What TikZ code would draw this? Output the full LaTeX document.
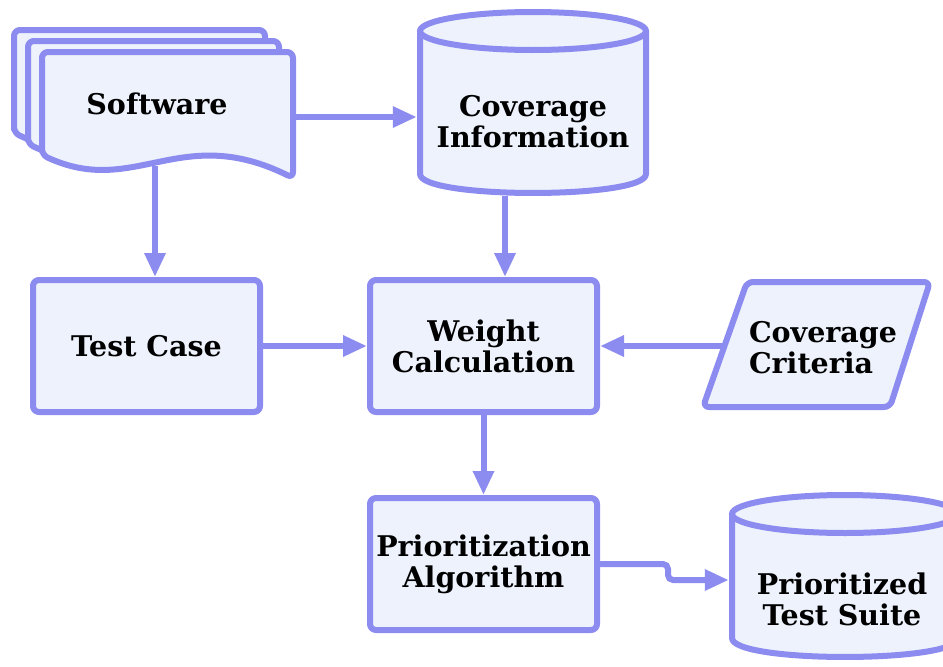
\documentclass[tikz,border=0pt]{standalone}
\usepackage{fontspec}
\setmainfont{DejaVu Serif}
\usetikzlibrary{arrows.meta}
\definecolor{edgec}{RGB}{140,140,240}
\definecolor{fillc}{RGB}{237,242,252}
\begin{document}
\begin{tikzpicture}[x=1pt,y=-1pt,
  shp/.style={draw=edgec, fill=fillc, line width=6pt, rounded corners=6pt, line join=round},
  box/.style={shp, minimum width=227pt, minimum height=132pt, inner sep=0pt},
  ghost/.style={inner sep=0pt},
  lbl/.style={font=\fontsize{28.5}{31}\selectfont\bfseries, align=center, text=black},
  conn/.style={draw=edgec, line width=6pt, -{Triangle[length=24pt,width=20pt]}}]
\useasboundingbox (0,0) rectangle (943,667);

% Software (stack of documents)
\foreach \dx/\dy in {-28/-22,-14/-11,0/0}{
  \draw[shp] ([shift={(\dx,\dy)}]42,155) -- ([shift={(\dx,\dy)}]42,52) -- ([shift={(\dx,\dy)}]293,52) -- ([shift={(\dx,\dy)}]293,178)
    .. controls ([shift={(\dx,\dy)}]180,122) and ([shift={(\dx,\dy)}]135,198) .. ([shift={(\dx,\dy)}]42,155) -- cycle;
}
\node[ghost, minimum width=251pt, minimum height=126pt] (sw) at (167.5,115) {};
\node[lbl] (swt) at (157,104) {Software};
\coordinate (swS) at (155,166);
\coordinate (swE) at (293,117);

% Coverage Information (cylinder)
\draw[draw=edgec, fill=fillc, line width=6pt, line join=round] (420,31) -- (420,174) .. controls (420,199.3) and (646,199.3) .. (646,174) -- (646,31);
\draw[draw=edgec, fill=fillc, line width=6pt] (533,31) ellipse[x radius=113, y radius=19];
\node[ghost, minimum width=232pt, minimum height=187pt] (cov) at (533,102.5) {};
\node[lbl] (covt) at (533,122) {Coverage\\Information};

% Boxes
\node[box, lbl] (tc) at (146.5,346) {Test Case};
\node[box, lbl] (wc) at (483.5,346) {Weight\\Calculation};
\node[box, lbl] (pa) at (483.5,564) {Prioritization\\Algorithm};

% Coverage Criteria (parallelogram)
\draw[shp] (747,282) -- (930,282) -- (890,407) -- (703,407) -- cycle;
\node[lbl, align=left] (cc) at (823,348) {Coverage\\Criteria};
\coordinate (ccW) at (724,346);

% Prioritized Test Suite (cylinder)
\draw[draw=edgec, fill=fillc, line width=6pt, line join=round] (732,514) -- (732,638) .. controls (732,663.3) and (958,663.3) .. (958,638) -- (958,514);
\draw[draw=edgec, fill=fillc, line width=6pt] (845,514) ellipse[x radius=113, y radius=19];
\node[ghost, minimum width=232pt, minimum height=162pt] (ts) at (845,576) {};
\node[lbl] (tst) at (842,599) {Prioritized\\Test Suite};

% Connectors
\draw[conn] (swE) -- (swE -| cov.west);
\draw[conn] (swS) -- (swS |- tc.north);
\draw[conn] ([xshift=-28pt]cov.south) -- ([xshift=21.5pt]wc.north);
\draw[conn] (tc.east) -- (wc.west);
\draw[conn] (ccW) -- (wc.east);
\draw[conn] (wc.south) -- (pa.north);
\draw[conn, rounded corners=5pt] (pa.east) -- ++(68,0) |- ([yshift=-4pt]ts.west);
\end{tikzpicture}
\end{document}
